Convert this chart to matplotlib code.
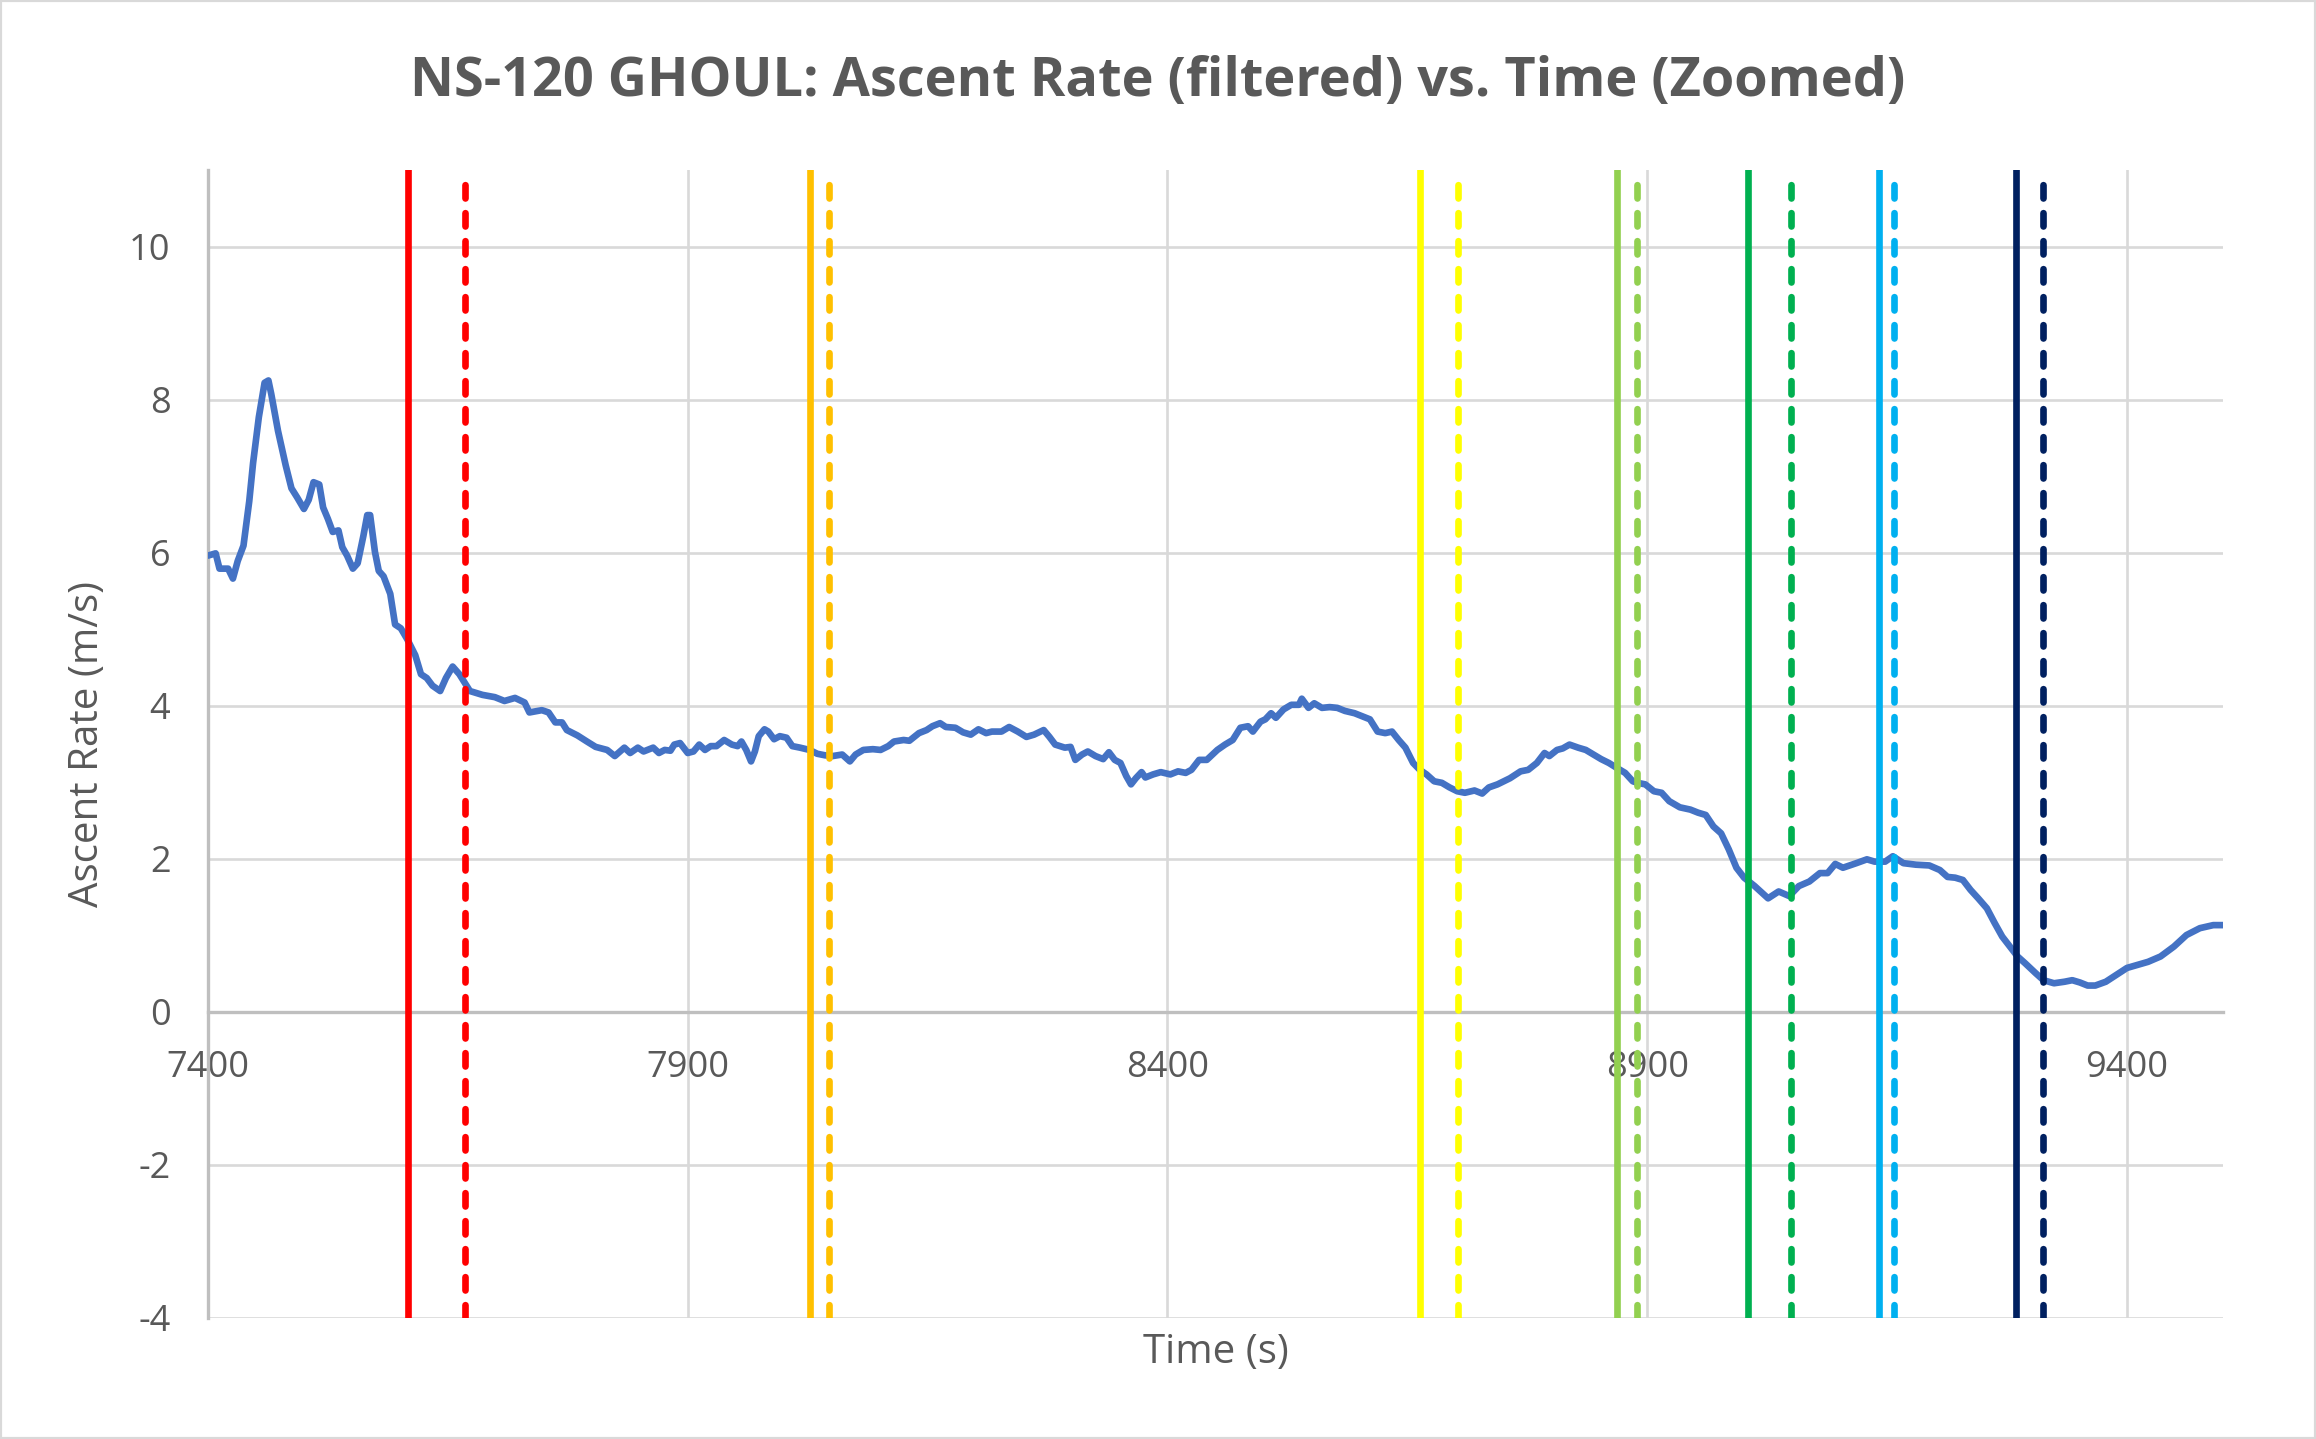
import matplotlib
matplotlib.use('Agg')
import matplotlib.pyplot as plt
from matplotlib.patches import Rectangle

plt.rcParams['font.family'] = ['Open Sans', 'DejaVu Sans']
plt.rcParams['axes.unicode_minus'] = False

# time (s) and filtered ascent rate (m/s)
time_s = [
    7400, 7408, 7412, 7421, 7426, 7431, 7437, 7443, 7447, 7453, 7459, 7463, 7466, 7473,
    7481, 7487, 7493, 7500, 7505, 7510, 7516, 7520, 7525, 7530, 7536, 7540, 7545, 7551,
    7556, 7562, 7566, 7569, 7574, 7578, 7583, 7590, 7595, 7601, 7608, 7616, 7622, 7628,
    7634, 7642, 7648, 7655, 7662, 7668, 7673, 7686, 7699, 7709, 7720, 7730, 7735, 7748,
    7755, 7762, 7769, 7774, 7785, 7795, 7804,
    7816, 7824, 7834, 7840, 7848, 7854, 7864, 7870, 7876, 7882, 7886, 7892, 7900, 7906,
    7912, 7918, 7924, 7930, 7938, 7946, 7952, 7956, 7961, 7966, 7970, 7974, 7980, 7984,
    7990, 7996, 8003, 8009, 8017, 8027, 8035, 8043, 8051, 8061, 8069, 8075, 8083, 8093,
    8101, 8109, 8115, 8125, 8131, 8141, 8149, 8155, 8163, 8169, 8179, 8187, 8195, 8203,
    8211, 8217, 8227, 8235, 8244, 8253, 8261, 8271, 8277, 8283, 8293, 8299, 8304, 8311,
    8317, 8325, 8333, 8339, 8345, 8351, 8357, 8362, 8367, 8373, 8377, 8385, 8393, 8403,
    8411, 8419, 8425,
    8433, 8441, 8452, 8460, 8468, 8476, 8484, 8489, 8497, 8502, 8508, 8513, 8521, 8529,
    8537, 8540, 8547, 8553, 8561, 8569, 8577, 8585, 8595, 8603, 8611, 8619, 8627, 8634,
    8641, 8648, 8656, 8663, 8670, 8678, 8686, 8694, 8702, 8710, 8720, 8728, 8735, 8744,
    8757, 8768, 8776, 8785, 8793, 8798, 8806, 8812, 8819, 8828, 8836, 8844, 8852, 8860,
    8869, 8877, 8885, 8890, 8898, 8907, 8915, 8923, 8934, 8945, 8953, 8961, 8969, 8977,
    8985, 8993, 9001, 9012, 9026, 9037, 9048, 9058, 9069, 9080, 9088, 9096, 9104, 9118,
    9129, 9137, 9148, 9156, 9167, 9180, 9194, 9205, 9213, 9221, 9229, 9237, 9245, 9254,
    9262, 9270, 9278, 9286, 9294, 9305, 9313, 9324, 9335, 9343, 9351, 9359, 9367, 9378,
    9389, 9400, 9411, 9422, 9435, 9449, 9462, 9476, 9490, 9501,
]
ascent_rate = [
    5.96, 5.99, 5.79, 5.79, 5.66, 5.89, 6.09, 6.67, 7.17, 7.77, 8.22, 8.25, 8.07, 7.59,
    7.14, 6.84, 6.72, 6.57, 6.69, 6.92, 6.89, 6.59, 6.44, 6.27, 6.29, 6.07, 5.96, 5.79,
    5.86, 6.22, 6.49, 6.49, 6.01, 5.76, 5.69, 5.46, 5.06, 5.01, 4.86, 4.66, 4.41, 4.36,
    4.26, 4.19, 4.36, 4.51, 4.41, 4.29, 4.19, 4.14, 4.11, 4.06, 4.10, 4.04, 3.91, 3.94,
    3.91, 3.78, 3.78, 3.68, 3.61, 3.53, 3.46,
    3.42, 3.34, 3.45, 3.38, 3.45, 3.40, 3.45, 3.38, 3.42, 3.41, 3.49, 3.51, 3.38, 3.40,
    3.49, 3.42, 3.47, 3.47, 3.55, 3.49, 3.47, 3.53, 3.42, 3.27, 3.40, 3.60, 3.69, 3.66,
    3.56, 3.60, 3.58, 3.47, 3.45, 3.42, 3.37, 3.35, 3.34, 3.36, 3.27, 3.36, 3.42, 3.43,
    3.42, 3.47, 3.53, 3.55, 3.54, 3.64, 3.68, 3.73, 3.77, 3.72, 3.71, 3.65, 3.62, 3.69,
    3.64, 3.66, 3.66, 3.72, 3.66, 3.59, 3.62, 3.68, 3.59, 3.49, 3.45, 3.46, 3.29, 3.36,
    3.40, 3.34, 3.30, 3.39, 3.29, 3.25, 3.08, 2.97, 3.05, 3.13, 3.06, 3.10, 3.13, 3.10,
    3.14, 3.12, 3.16,
    3.29, 3.29, 3.42, 3.49, 3.55, 3.71, 3.73, 3.66, 3.79, 3.82, 3.90, 3.84, 3.95, 4.01,
    4.01, 4.09, 3.97, 4.03, 3.97, 3.98, 3.97, 3.93, 3.90, 3.86, 3.82, 3.66, 3.64, 3.66,
    3.55, 3.45, 3.25, 3.16, 3.10, 3.01, 2.99, 2.93, 2.88, 2.86, 2.89, 2.85, 2.93, 2.97,
    3.05, 3.14, 3.16, 3.25, 3.38, 3.34, 3.42, 3.44, 3.49, 3.45, 3.42, 3.36, 3.30, 3.25,
    3.18, 3.12, 3.01, 2.99, 2.97, 2.88, 2.86, 2.75, 2.67, 2.64, 2.60, 2.57, 2.42, 2.33,
    2.12, 1.88, 1.75, 1.64, 1.48, 1.57, 1.51, 1.64, 1.70, 1.81, 1.81, 1.93, 1.88, 1.94,
    1.99, 1.96, 1.96, 2.03, 1.94, 1.92, 1.91, 1.85, 1.76, 1.75, 1.72, 1.59, 1.48, 1.35,
    1.16, 0.98, 0.85, 0.72, 0.63, 0.50, 0.41, 0.37, 0.39, 0.41, 0.38, 0.34, 0.34, 0.39,
    0.48, 0.57, 0.61, 0.65, 0.72, 0.85, 1.00, 1.09, 1.13, 1.13,
]

# event markers: solid = start, dashed = end
event_colors = ['#FF0000', '#FFC000', '#FFFF00', '#92D050', '#00B050', '#00B0F0', '#002060']
event_start = [7608, 8027, 8663, 8869, 9005, 9142, 9284]
event_end = [7668, 8047, 8703, 8889, 9050, 9157, 9313]

x_ticks = [7400, 7900, 8400, 8900, 9400]
y_ticks = [-4, -2, 0, 2, 4, 6, 8, 10]

text_color = '#595959'

fig = plt.figure(figsize=(23.16, 14.39), dpi=100)
ax = fig.add_axes([0.0898, 0.0844, 0.870, 0.7974])

ax.plot(time_s, ascent_rate, color='#4472C4', linewidth=4.8, solid_joinstyle='round',
        solid_capstyle='round', zorder=3)

for c, xs, xe in zip(event_colors, event_start, event_end):
    ax.axvline(xs, color=c, linewidth=4.8, zorder=4)
    ax.axvline(xe, color=c, linewidth=4.8, linestyle=(0, (2.0, 2.2)),
               dash_capstyle='round', zorder=4)

ax.set_xlim(7400, 9500)
ax.set_ylim(-4, 11)
ax.set_xticks(x_ticks)
ax.set_yticks(y_ticks)

ax.grid(True, color='#d9d9d9', linewidth=1.9, zorder=0)
ax.set_axisbelow(True)

for s in ['top', 'right']:
    ax.spines[s].set_visible(False)
ax.spines['left'].set_color('#bfbfbf')
ax.spines['left'].set_linewidth(2.4)
ax.spines['bottom'].set_position(('data', 0))
ax.spines['bottom'].set_color('#bfbfbf')
ax.spines['bottom'].set_linewidth(2.4)

ax.tick_params(axis='both', length=0, labelsize=26, labelcolor=text_color)
ax.tick_params(axis='x', pad=28)
ax.tick_params(axis='y', pad=27)

ax.set_xlabel('Time (s)', fontsize=29, color=text_color, va='center')
ax.xaxis.set_label_coords(0.5, -0.031)
ax.set_ylabel('Ascent Rate (m/s)', fontsize=29, color=text_color, va='center')
ax.yaxis.set_label_coords(-0.0596, 0.5)

fig.text(0.5, 0.943, 'NS-120 GHOUL: Ascent Rate (filtered) vs. Time (Zoomed)',
         ha='center', va='center', fontsize=39, fontweight='bold', color=text_color)

fig.patches.append(Rectangle((0, 0), 1, 1, transform=fig.transFigure, fill=False,
                             edgecolor='#d9d9d9', linewidth=3))

fig.savefig('out.png', dpi=100, facecolor='white')
